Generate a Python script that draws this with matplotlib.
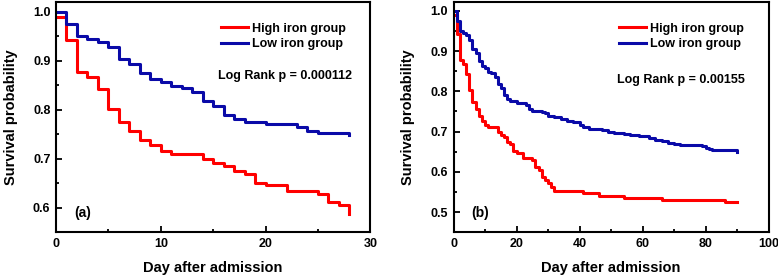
"""Kaplan-Meier style survival curves, high vs low iron group"""
import matplotlib
matplotlib.use("Agg")
import matplotlib.pyplot as plt
from matplotlib.ticker import MultipleLocator, FormatStrFormatter

plt.rcParams['font.family'] = ['Liberation Sans', 'DejaVu Sans']
plt.rcParams['font.weight'] = 'bold'

RED = '#ff0000'
BLUE = '#0a0aa8'

# panel (a): 28-day follow up
a_high_days = [0, 1, 2, 3, 4, 5, 6, 7, 8, 9, 10, 11, 14, 15, 16, 17, 18, 19, 20, 22, 25, 26, 27, 28]
a_high_surv = [0.990, 0.942, 0.877, 0.867, 0.843, 0.802, 0.774, 0.756, 0.739, 0.727, 0.716, 0.710,
               0.699, 0.692, 0.686, 0.675, 0.669, 0.651, 0.646, 0.634, 0.628, 0.611, 0.605, 0.588]
a_low_days = [0, 1, 2, 3, 4, 5, 6, 7, 8, 9, 10, 11, 12, 13, 14, 15, 16, 17, 18, 20, 23, 24, 25, 28]
a_low_surv = [1.000, 0.975, 0.950, 0.944, 0.939, 0.927, 0.904, 0.894, 0.875, 0.862, 0.857, 0.849,
              0.845, 0.836, 0.817, 0.807, 0.790, 0.780, 0.775, 0.771, 0.765, 0.757, 0.752, 0.749]

# panel (b): 90-day follow up
b_high_days = [0, 1, 2, 3, 4, 5, 6, 7, 8, 9, 10, 11, 14, 15, 16, 17, 18, 19, 20, 22, 25, 26, 27,
               28, 29, 30, 31, 32, 41, 46, 54, 66, 86, 90]
b_high_surv = [0.990, 0.942, 0.877, 0.867, 0.843, 0.802, 0.774, 0.756, 0.739, 0.727, 0.716, 0.710,
               0.699, 0.692, 0.686, 0.675, 0.669, 0.651, 0.646, 0.634, 0.628, 0.611, 0.605,
               0.588, 0.580, 0.572, 0.562, 0.553, 0.547, 0.540, 0.535, 0.530, 0.524, 0.524]
b_low_days = [0, 1, 2, 3, 4, 5, 6, 7, 8, 9, 10, 11, 12, 13, 14, 15, 16, 17, 18, 20, 23, 24, 25,
              28, 29, 30, 32, 34, 36, 38, 40, 41, 43, 47, 49, 51, 54, 56, 59, 62, 64, 66, 68,
              70, 72, 79, 80, 81, 82, 90]
b_low_surv = [1.000, 0.975, 0.950, 0.944, 0.939, 0.927, 0.904, 0.894, 0.875, 0.862, 0.857, 0.849,
              0.845, 0.836, 0.817, 0.807, 0.790, 0.780, 0.775, 0.771, 0.765, 0.757, 0.752,
              0.749, 0.745, 0.738, 0.735, 0.730, 0.727, 0.723, 0.716, 0.712, 0.706, 0.703, 0.700,
              0.697, 0.694, 0.691, 0.688, 0.685, 0.680, 0.676, 0.672, 0.668, 0.666, 0.663, 0.659,
              0.656, 0.653, 0.650]


def survival_panel(ax, high, low, xlim, ylim, xmaj, ymaj, pval, pval_pos, tag):
    ax.step(high[0], high[1], where='post', color=RED, lw=2.2, label='High iron group')
    ax.step(low[0], low[1], where='post', color=BLUE, lw=2.2, label='Low iron group')
    ax.set_xlim(*xlim)
    ax.set_ylim(*ylim)
    ax.xaxis.set_major_locator(MultipleLocator(xmaj))
    ax.xaxis.set_minor_locator(MultipleLocator(xmaj / 2))
    ax.yaxis.set_major_locator(MultipleLocator(ymaj))
    ax.yaxis.set_minor_locator(MultipleLocator(ymaj / 2))
    ax.yaxis.set_major_formatter(FormatStrFormatter('%.1f'))
    ax.tick_params(which='both', direction='in', top=False, right=False, labelsize=9, width=1.3)
    ax.tick_params(which='major', length=4, pad=4)
    ax.tick_params(which='minor', length=2.5)
    for s in ax.spines.values():
        s.set_linewidth(1.5)
    ax.set_xlabel('Day after admission', fontsize=10.5, fontweight='bold', labelpad=8)
    ax.set_ylabel('Survival probability', fontsize=10.5, fontweight='bold', labelpad=11)
    ax.legend(loc='upper right', bbox_to_anchor=(0.922, 0.91), frameon=False, fontsize=9,
              handlelength=2.2, handletextpad=0.3, labelspacing=0.3, borderpad=0,
              borderaxespad=0)
    ax.text(pval_pos[0], pval_pos[1], pval, transform=ax.transAxes, fontsize=9,
            fontweight='bold', ha='center', va='center')
    ax.text(0.085, 0.085, tag, transform=ax.transAxes, fontsize=10, fontweight='bold',
            ha='center', va='center')


fig = plt.figure(figsize=(7.78, 2.77), dpi=100)
ax1 = fig.add_axes([0.072, 0.162, 0.404, 0.831])
ax2 = fig.add_axes([0.583, 0.162, 0.405, 0.831])

survival_panel(ax1, (a_high_days, a_high_surv), (a_low_days, a_low_surv),
               (0, 30), (0.55, 1.02), 10, 0.1, 'Log Rank p = 0.000112', (0.73, 0.678), '(a)')
survival_panel(ax2, (b_high_days, b_high_surv), (b_low_days, b_low_surv),
               (0, 100), (0.45, 1.022), 20, 0.1, 'Log Rank p = 0.00155', (0.72, 0.66), '(b)')

fig.savefig('out.png', dpi=100)
